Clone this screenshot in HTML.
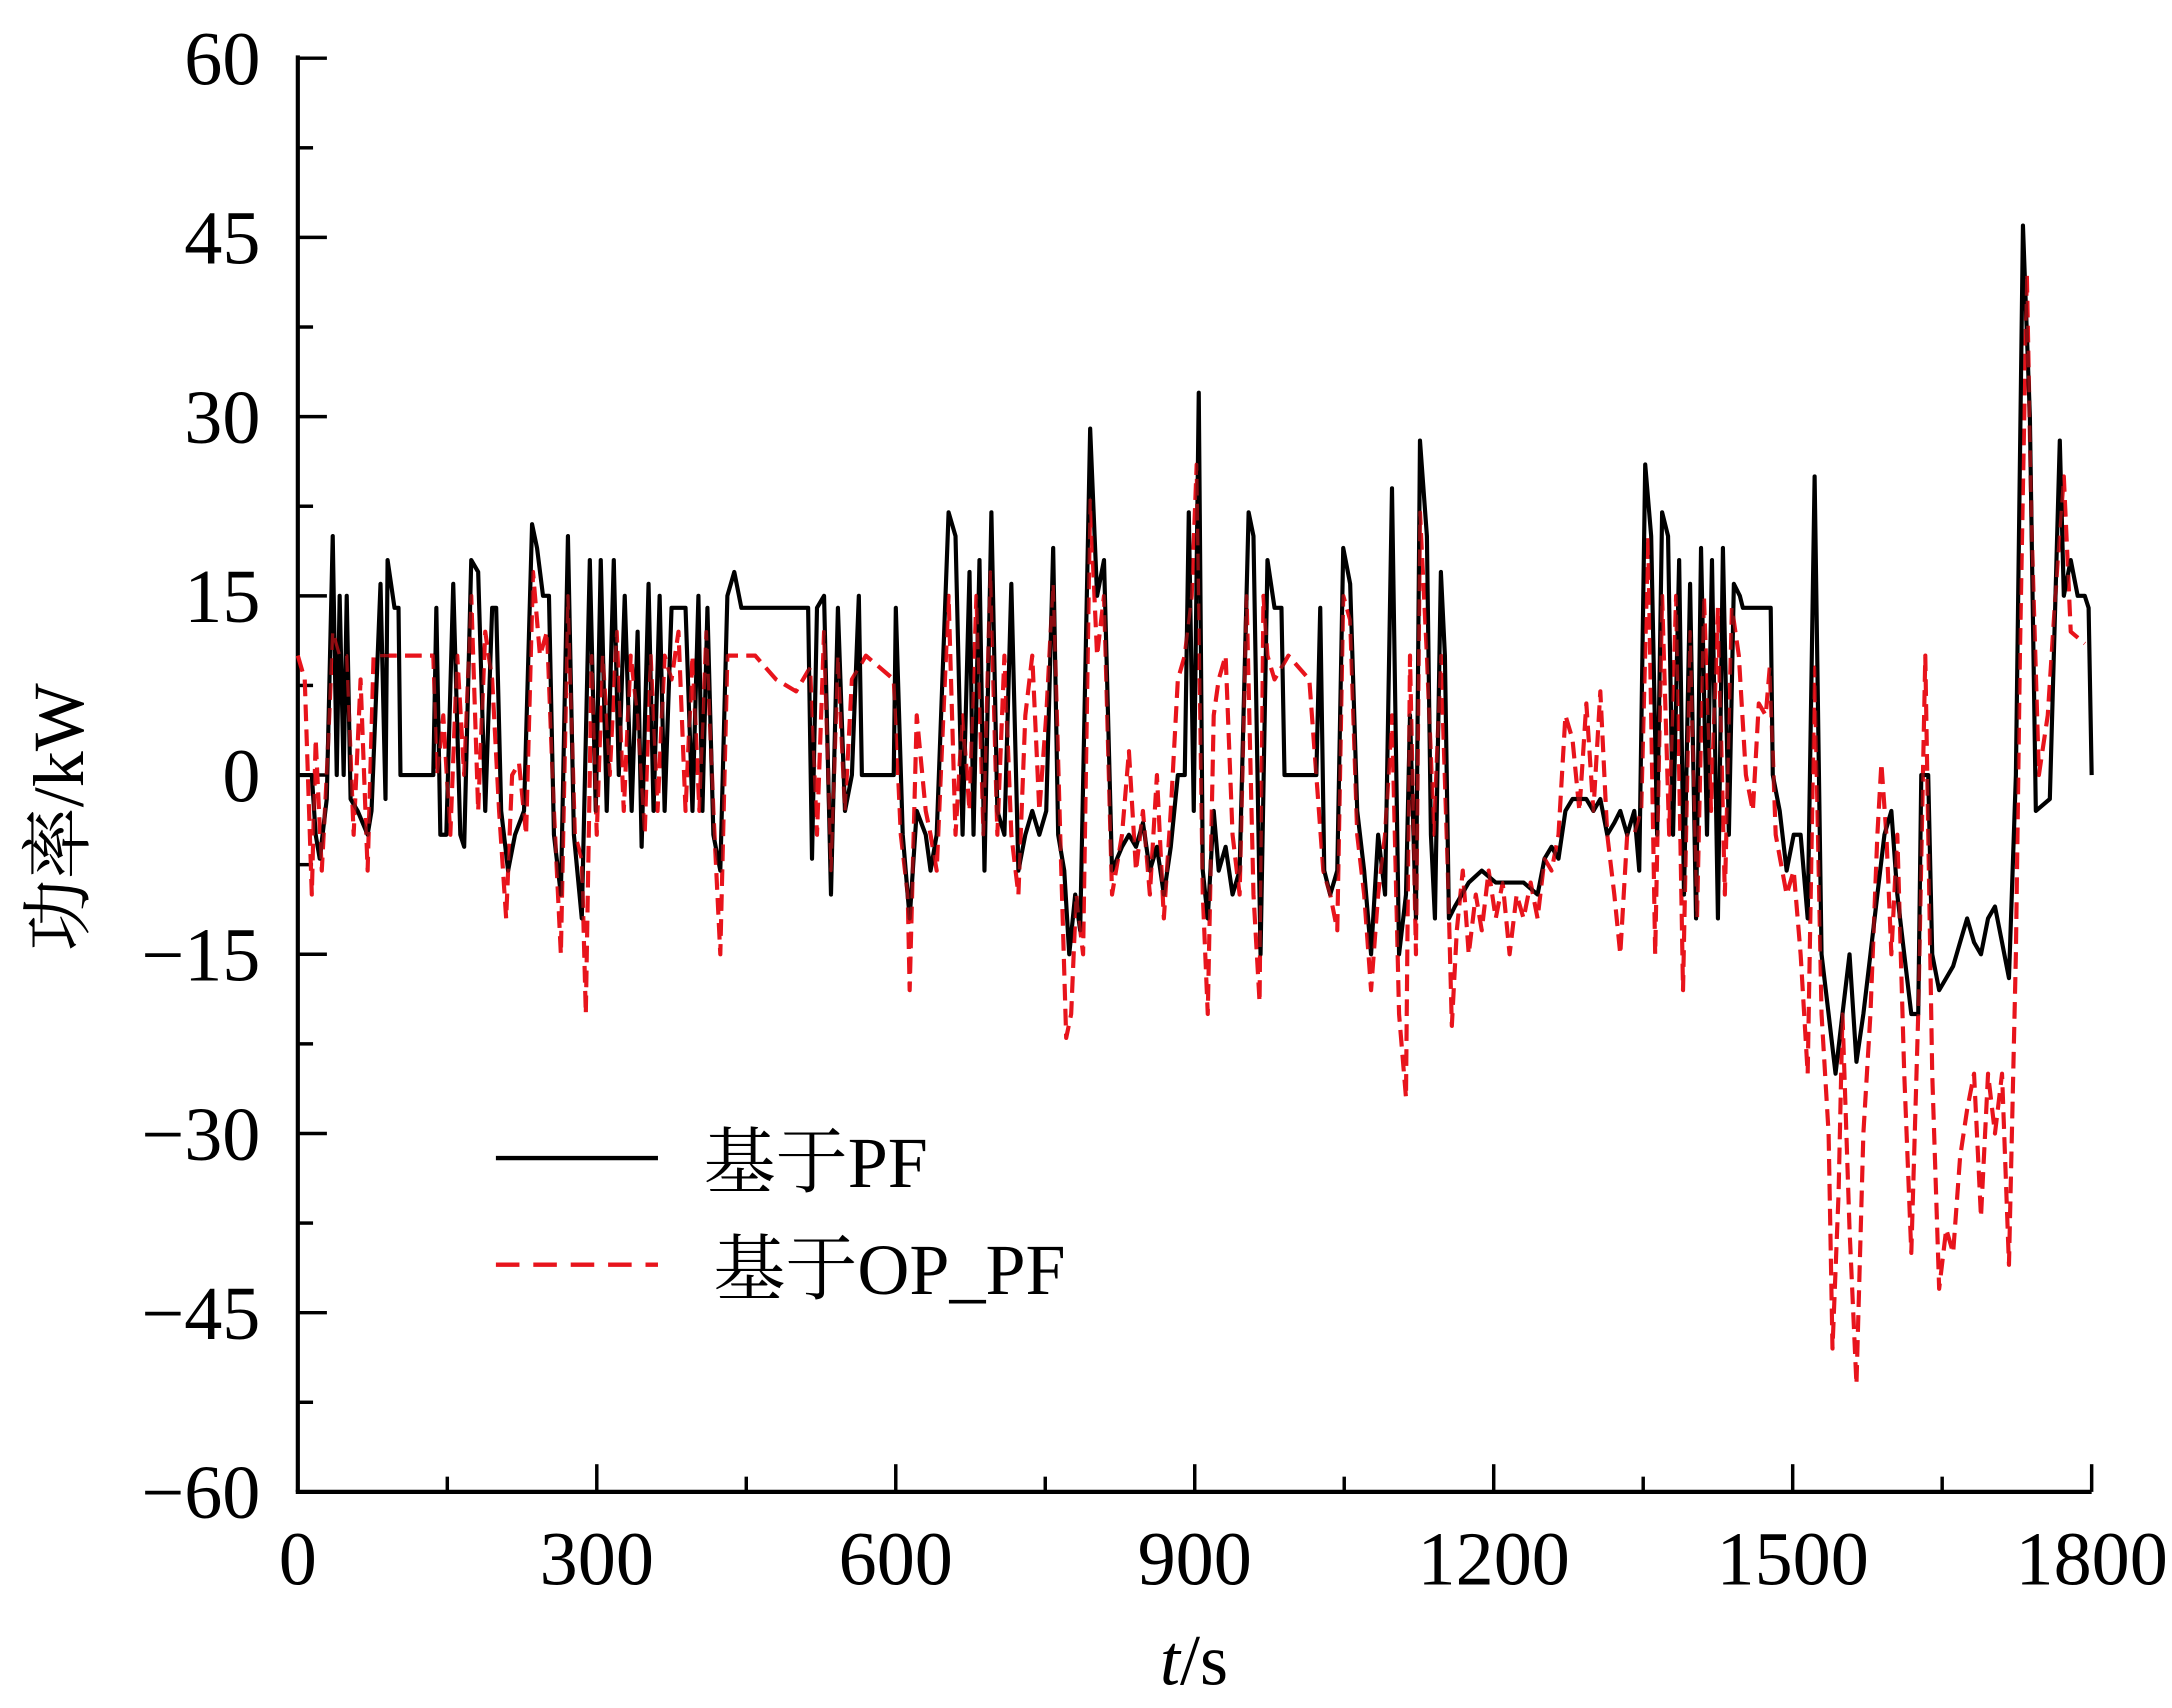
<!DOCTYPE html>
<html><head><meta charset="utf-8"><style>
html,body{margin:0;padding:0;background:#fff;}
svg{display:block;}
text{font-family:"Liberation Serif","Noto Serif CJK SC",serif;fill:#000;}
</style></head><body>
<svg id="chart" width="2172" height="1708" viewBox="0 0 1568 1233" xmlns="http://www.w3.org/2000/svg">
<g id="axes"></g>
<g id="series"></g>
<g>
<line x1="358" y1="836" x2="475" y2="836" stroke="#000" stroke-width="3.2"/>
<text x="508" y="857" font-size="52">基于PF</text>
<line x1="358" y1="913" x2="475" y2="913" stroke="#e8141c" stroke-width="3.2" stroke-dasharray="17 10"/>
<text x="515" y="934" font-size="52">基于OP_PF</text>
</g>
<text x="862" y="1216" font-size="52" text-anchor="middle"><tspan font-style="italic">t</tspan>/s</text>
<text transform="translate(60,590) rotate(-90)" font-size="52" text-anchor="middle">功率/kW</text>
</svg>
<script>
const xTicks=[0,300,600,900,1200,1500,1800];
const yTicks=[-60,-45,-30,-15,0,15,30,45,60];
const pfT=[0,14,18,22,29,35,39,42,46,49,53,60,70,74,83,88,90,97,101,103,136,139,143,149,156,163,167,174,181,188,195,199,204,211,218,227,235,240,246,252,257,264,271,277,285,293,299,304,310,317,322,328,335,341,345,352,357,363,368,375,382,389,396,402,406,411,417,424,431,438,445,512,516,521,528,535,542,549,556,563,566,598,600,607,614,621,630,635,641,653,660,667,674,678,684,689,696,702,709,716,723,730,737,744,751,758,763,769,774,780,785,795,802,809,817,827,834,841,848,855,862,869,876,883,890,894,899,904,908,913,919,924,931,938,945,954,959,966,973,980,987,990,1022,1026,1030,1036,1043,1049,1056,1063,1070,1077,1084,1091,1098,1105,1112,1116,1122,1126,1133,1137,1141,1147,1151,1155,1161,1175,1188,1202,1216,1230,1244,1251,1258,1265,1272,1279,1293,1300,1307,1314,1321,1327,1334,1341,1346,1352,1358,1364,1369,1375,1380,1386,1391,1397,1403,1408,1414,1419,1425,1430,1436,1441,1447,1450,1478,1480,1487,1494,1501,1508,1515,1522,1529,1536,1543,1550,1557,1564,1571,1578,1585,1592,1599,1605,1612,1619,1626,1629,1636,1640,1647,1654,1661,1668,1675,1682,1689,1696,1703,1710,1717,1724,1731,1738,1744,1758,1768,1772,1779,1786,1793,1797,1800];
const pfV=[0,0,-5,-7,-2,20,0,15,0,15,-2,-3,-5,-3,16,-2,18,14,14,0,0,14,-5,-5,16,-5,-6,18,17,-3,14,14,-3,-8,-5,-3,21,19,15,15,-5,-10,20,-5,-12,18,-3,18,-3,18,0,15,-3,12,-6,16,-3,15,-3,14,14,14,-3,15,-3,14,-5,-8,15,17,14,14,-7,14,15,-10,14,-3,0,15,0,0,14,-5,-12,-3,-5,-8,-5,22,20,-5,17,-5,18,-8,22,-3,-5,16,-8,-5,-3,-5,-3,19,-5,-8,-15,-10,-13,29,15,18,-8,-6,-5,-6,-4,-8,-6,-10,-6,0,0,22,-3,32,-8,-12,-3,-8,-6,-10,-8,22,20,-15,18,14,14,0,0,14,-8,-10,-8,19,16,-3,-8,-15,-5,-10,24,-15,-10,5,-12,28,20,-5,-12,17,10,-12,-11,-9,-8,-9,-9,-9,-10,-7,-6,-7,-3,-2,-2,-3,-2,-5,-4,-3,-5,-3,-8,26,20,-5,22,20,-5,18,-10,16,-12,19,-5,18,-12,19,-5,16,15,14,14,0,-3,-8,-5,-5,-12,25,-15,-20,-25,-20,-15,-24,-20,-15,-10,-5,-3,-10,-15,-20,-20,0,0,-15,-18,-17,-16,-14,-12,-14,-15,-12,-11,-14,-17,0,46,30,-3,-2,28,15,18,15,15,14,0];
const opT=[0,7,14,18,24,29,35,42,49,56,63,70,76,90,118,136,140,146,153,160,167,174,181,188,195,202,209,215,222,229,236,243,250,257,264,271,278,285,289,295,300,306,313,320,327,334,341,348,354,361,368,375,382,389,396,403,410,417,424,431,459,480,500,514,521,528,535,542,549,556,570,598,605,612,614,621,630,635,641,653,660,667,674,681,688,695,702,709,716,723,730,737,744,751,758,765,771,776,781,788,795,802,809,817,827,834,841,848,855,862,869,876,883,890,897,902,908,913,919,924,931,938,945,952,959,965,969,973,980,994,1015,1029,1036,1043,1049,1056,1063,1070,1077,1084,1091,1098,1105,1112,1116,1122,1126,1133,1140,1147,1154,1158,1163,1169,1175,1182,1188,1195,1202,1209,1216,1223,1230,1237,1244,1251,1258,1265,1272,1279,1286,1293,1300,1307,1314,1321,1327,1334,1341,1348,1355,1362,1369,1376,1383,1390,1397,1404,1411,1418,1425,1432,1439,1446,1453,1460,1466,1473,1477,1483,1494,1501,1508,1515,1522,1529,1536,1540,1546,1550,1557,1564,1571,1578,1585,1589,1594,1599,1605,1612,1619,1626,1633,1640,1647,1654,1661,1668,1675,1682,1689,1696,1703,1710,1717,1724,1728,1735,1740,1747,1756,1766,1772,1779,1793];
const opV=[10,8,-10,3,-8,0,12,10,10,-5,8,-8,10,10,10,10,0,5,-5,10,0,15,-3,12,8,-3,-12,0,1,-5,17,10,12,-3,-15,15,-5,-7,-20,10,-5,10,0,12,-3,10,5,-5,10,-3,10,8,12,-3,10,-3,12,-3,-15,10,10,8,7,9,-5,12,-8,10,-3,8,10,8,-5,-10,-18,5,-3,-5,-8,15,-5,5,-3,15,-5,17,-5,10,-5,-10,5,10,-3,5,16,-5,-22,-20,-10,-15,23,10,15,-10,-5,2,-8,-3,-10,0,-12,-3,8,10,15,26,-10,-20,5,8,10,-5,-10,15,-10,-19,15,10,8,10,8,-8,-10,-13,15,13,-5,-10,-18,-10,-5,5,-20,-27,10,-15,22,10,-5,10,-8,-21,-13,-8,-15,-10,-13,-8,-12,-9,-15,-10,-12,-9,-12,-7,-8,-5,5,3,-3,6,-3,7,-5,-10,-15,-5,-5,-3,20,-15,15,-5,15,-18,12,-12,15,-3,14,-10,14,10,0,-3,6,5,9,-5,-10,-8,-15,-25,9,-20,-30,-48,-35,-20,-38,-51,-30,-20,-5,1,-5,-15,-5,-25,-40,-20,10,-25,-43,-38,-40,-32,-28,-25,-37,-25,-30,-25,-41,-15,10,42,20,0,5,18,25,12,11];

const X0=215,X1=1510,Y0=1077,Y1=42;
function sx(t){return X0+(t-0)/(1800-0)*(X1-X0);}
function sy(v){return Y0-(v+60)/120*(Y0-Y1);}
const NS='http://www.w3.org/2000/svg';
const axes=document.getElementById('axes');
const ser=document.getElementById('series');
function mk(tag,attrs,parent){const e=document.createElementNS(NS,tag);for(const k in attrs)e.setAttribute(k,attrs[k]);parent.appendChild(e);return e;}

function pathFor(T,V){let d='';for(let i=0;i<T.length;i++){d+=(i?'L':'M')+sx(T[i]).toFixed(1)+','+sy(V[i]).toFixed(1);}return d;}
const pOp=mk('path',{d:pathFor(opT,opV),fill:'none',stroke:'#e8141c','stroke-width':3,'stroke-dasharray':'12 6','stroke-linejoin':'round'},ser);


const pPf=mk('path',{d:pathFor(pfT,pfV),fill:'none',stroke:'#000','stroke-width':3,'stroke-linejoin':'round'},ser);


const pOp2=mk('path',{d:pathFor(opT,opV),fill:'none',stroke:'#e8141c','stroke-width':2.4,'stroke-dasharray':'12 6','stroke-linejoin':'round',opacity:0.6},ser);



const ax=mk('line',{x1:X0,y1:Y1-2,x2:X0,y2:Y0,stroke:'#000','stroke-width':3},axes);


const bx=mk('line',{x1:X0-1.5,y1:Y0,x2:X1,y2:Y0,stroke:'#000','stroke-width':3},axes);



xTicks.forEach((t,i)=>{
  const l=mk('line',{x1:sx(t),y1:Y0,x2:sx(t),y2:Y0-20,stroke:'#000','stroke-width':2.5},axes);
  
  
  const tx=mk('text',{x:sx(t),y:Y0+67,'font-size':55,'text-anchor':'middle'},axes);
  tx.textContent=t;
  
  
  if(i<xTicks.length-1){
    const m=mk('line',{x1:sx(t+150),y1:Y0,x2:sx(t+150),y2:Y0-11,stroke:'#000','stroke-width':2.5},axes);
    
    
  }
});
yTicks.forEach((v,i)=>{
  const l=mk('line',{x1:X0,y1:sy(v),x2:X0+21,y2:sy(v),stroke:'#000','stroke-width':2.5},axes);
  
  
  const tx=mk('text',{x:188,y:sy(v)+19,'font-size':55,'text-anchor':'end'},axes);
  tx.textContent=v<0?'\u2212'+(-v):String(v);
  
  
  if(i<yTicks.length-1){
    const m=mk('line',{x1:X0,y1:sy(v+7.5),x2:X0+11,y2:sy(v+7.5),stroke:'#000','stroke-width':2.5},axes);
    
    
  }
});
</script>
</body></html>
